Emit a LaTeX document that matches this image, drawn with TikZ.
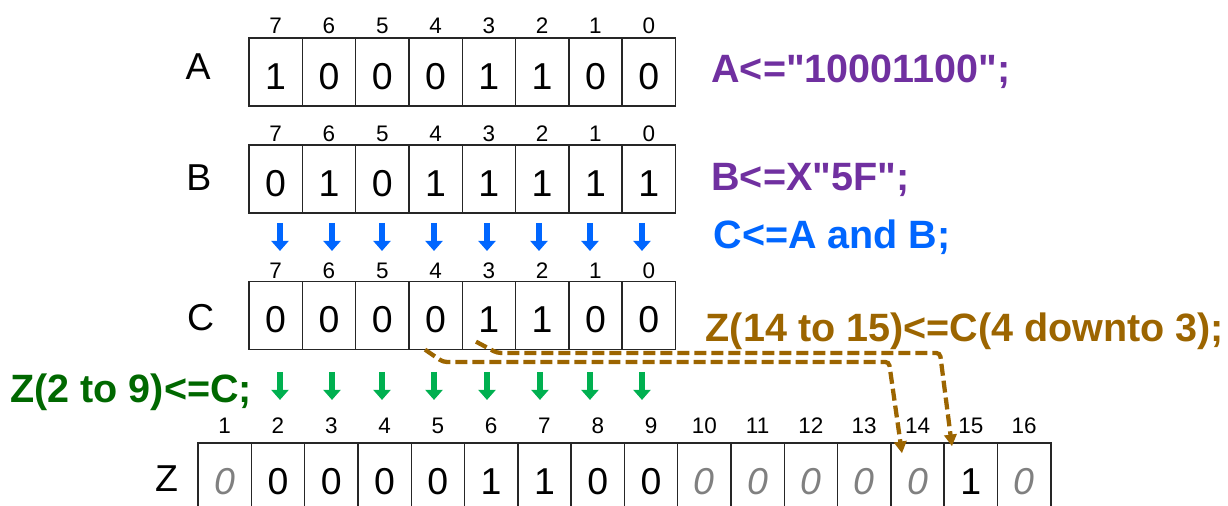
\documentclass[tikz,border=0pt]{standalone}
\usepackage{fontspec}
\setmainfont{Liberation Sans}[Ligatures=TeXOff]
\usetikzlibrary{arrows.meta}
\definecolor{assignpurple}{RGB}{112,48,160}
\definecolor{andblue}{RGB}{0,102,255}
\definecolor{slicebrown}{RGB}{156,101,0}
\definecolor{concatgreen}{RGB}{0,104,0}
\definecolor{arrowgreen}{RGB}{0,176,80}

\begin{document}
\begin{tikzpicture} [scale = 1,
  cell/.style = {draw = black!85, line width = 0.75pt, minimum width = 1cm, minimum height = 1.276cm, inner sep = 0pt, text height = 18.5pt, text depth = 0pt, font = \fontsize{20}{24}\selectfont},
  unset/.style = {cell, text = black!50, font = \fontsize{20}{24}\selectfont\itshape},
  idx/.style = {inner sep = 0pt, text height = 8.6pt, text depth = 0pt, font = \fontsize{12}{14}\selectfont},
  rowname/.style = {inner sep = 0pt, text height = 14.3pt, text depth = 0pt, font = \fontsize{20}{24}\selectfont},
  code/.style = {anchor = base west, inner sep = 0pt, font = \fontsize{21.1}{25}\selectfont\bfseries},
  andarrow/.style = {andblue, line width = 0.13cm, -{Triangle[width = 0.32cm, length = 0.19cm]}},
  copyarrow/.style = {arrowgreen, line width = 0.13cm, -{Triangle[width = 0.32cm, length = 0.19cm]}},
  slicearrow/.style = {slicebrown, line width = 0.08cm, dash pattern = on 0.225cm off 0.094cm, rounded corners = 2pt, -{Triangle[width = 0.23cm, length = 0.22cm]}}]
\useasboundingbox (0, 0) rectangle (23.04, 9.493);
% row A
\node[rowname] (nameA) at (3.715, 8.25){A};
\node[cell] (A7) at (5.172, 8.143){1};
\node[cell] (A6) at (6.172, 8.143){0};
\node[cell] (A5) at (7.172, 8.143){0};
\node[cell] (A4) at (8.172, 8.143){0};
\node[cell] (A3) at (9.172, 8.143){1};
\node[cell] (A2) at (10.172, 8.143){1};
\node[cell] (A1) at (11.172, 8.143){0};
\node[cell] (A0) at (12.172, 8.143){0};
\node[idx] (iA7) at (5.172, 9.02){7};
\node[idx] (iA6) at (6.172, 9.02){6};
\node[idx] (iA5) at (7.172, 9.02){5};
\node[idx] (iA4) at (8.172, 9.02){4};
\node[idx] (iA3) at (9.172, 9.02){3};
\node[idx] (iA2) at (10.172, 9.02){2};
\node[idx] (iA1) at (11.172, 9.02){1};
\node[idx] (iA0) at (12.172, 9.02){0};
\node[code, assignpurple] (codeA) at (13.34, 7.936){A<="10001100";};
% row B
\node[rowname] (nameB) at (3.733, 6.173){B};
\node[cell] (B7) at (5.172, 6.135){0};
\node[cell] (B6) at (6.172, 6.135){1};
\node[cell] (B5) at (7.172, 6.135){0};
\node[cell] (B4) at (8.172, 6.135){1};
\node[cell] (B3) at (9.172, 6.135){1};
\node[cell] (B2) at (10.172, 6.135){1};
\node[cell] (B1) at (11.172, 6.135){1};
\node[cell] (B0) at (12.172, 6.135){1};
\node[idx] (iB7) at (5.172, 6.998){7};
\node[idx] (iB6) at (6.172, 6.998){6};
\node[idx] (iB5) at (7.172, 6.998){5};
\node[idx] (iB4) at (8.172, 6.998){4};
\node[idx] (iB3) at (9.172, 6.998){3};
\node[idx] (iB2) at (10.172, 6.998){2};
\node[idx] (iB1) at (11.172, 6.998){1};
\node[idx] (iB0) at (12.172, 6.998){0};
\node[code, assignpurple] (codeB) at (13.34, 5.910){B<=X"5F";};
% A and B
\node[code, andblue] (codeC) at (13.38, 4.822){C<=A and B;};
\draw[andarrow] (5.253, 5.310) -- (5.253, 4.784);
\draw[andarrow] (6.229, 5.310) -- (6.229, 4.784);
\draw[andarrow] (7.167, 5.310) -- (7.167, 4.784);
\draw[andarrow] (8.143, 5.310) -- (8.143, 4.784);
\draw[andarrow] (9.137, 5.310) -- (9.137, 4.784);
\draw[andarrow] (10.113, 5.310) -- (10.113, 4.784);
\draw[andarrow] (11.069, 5.310) -- (11.069, 4.784);
\draw[andarrow] (12.045, 5.310) -- (12.045, 4.784);
% row C
\node[rowname] (nameC) at (3.765, 3.537){C};
\node[cell] (C7) at (5.172, 3.574){0};
\node[cell] (C6) at (6.172, 3.574){0};
\node[cell] (C5) at (7.172, 3.574){0};
\node[cell] (C4) at (8.172, 3.574){0};
\node[cell] (C3) at (9.172, 3.574){1};
\node[cell] (C2) at (10.172, 3.574){1};
\node[cell] (C1) at (11.172, 3.574){0};
\node[cell] (C0) at (12.172, 3.574){0};
\node[idx] (iC7) at (5.172, 4.428){7};
\node[idx] (iC6) at (6.172, 4.428){6};
\node[idx] (iC5) at (7.172, 4.428){5};
\node[idx] (iC4) at (8.172, 4.428){4};
\node[idx] (iC3) at (9.172, 4.428){3};
\node[idx] (iC2) at (10.172, 4.428){2};
\node[idx] (iC1) at (11.172, 4.428){1};
\node[idx] (iC0) at (12.172, 4.428){0};
% Z(2 to 9)
\node[code, concatgreen] (codeZlow) at (0.188, 1.932){Z(2 to 9)<=C;};
\draw[copyarrow] (5.253, 2.514) -- (5.253, 1.989);
\draw[copyarrow] (6.229, 2.514) -- (6.229, 1.989);
\draw[copyarrow] (7.167, 2.514) -- (7.167, 1.989);
\draw[copyarrow] (8.143, 2.514) -- (8.143, 1.989);
\draw[copyarrow] (9.137, 2.514) -- (9.137, 1.989);
\draw[copyarrow] (10.131, 2.514) -- (10.131, 1.989);
\draw[copyarrow] (11.069, 2.514) -- (11.069, 1.989);
\draw[copyarrow] (12.045, 2.514) -- (12.045, 1.989);
% row Z
\node[rowname] (nameZ) at (3.127, 0.531){Z};
\node[unset] (Z1) at (4.215, 0.544){0};
\node[cell] (Z2) at (5.215, 0.544){0};
\node[cell] (Z3) at (6.215, 0.544){0};
\node[cell] (Z4) at (7.215, 0.544){0};
\node[cell] (Z5) at (8.215, 0.544){0};
\node[cell] (Z6) at (9.215, 0.544){1};
\node[cell] (Z7) at (10.215, 0.544){1};
\node[cell] (Z8) at (11.215, 0.544){0};
\node[cell] (Z9) at (12.215, 0.544){0};
\node[unset] (Z10) at (13.215, 0.544){0};
\node[unset] (Z11) at (14.215, 0.544){0};
\node[unset] (Z12) at (15.215, 0.544){0};
\node[unset] (Z13) at (16.215, 0.544){0};
\node[unset] (Z14) at (17.215, 0.544){0};
\node[cell] (Z15) at (18.215, 0.544){1};
\node[unset] (Z16) at (19.215, 0.544){0};
\node[idx] (iZ1) at (4.215, 1.52){1};
\node[idx] (iZ2) at (5.215, 1.52){2};
\node[idx] (iZ3) at (6.215, 1.52){3};
\node[idx] (iZ4) at (7.215, 1.52){4};
\node[idx] (iZ5) at (8.215, 1.52){5};
\node[idx] (iZ6) at (9.215, 1.52){6};
\node[idx] (iZ7) at (10.215, 1.52){7};
\node[idx] (iZ8) at (11.215, 1.52){8};
\node[idx] (iZ9) at (12.215, 1.52){9};
\node[idx] (iZ10) at (13.215, 1.52){10};
\node[idx] (iZ11) at (14.215, 1.52){11};
\node[idx] (iZ12) at (15.215, 1.52){12};
\node[idx] (iZ13) at (16.215, 1.52){13};
\node[idx] (iZ14) at (17.215, 1.52){14};
\node[idx] (iZ15) at (18.215, 1.52){15};
\node[idx] (iZ16) at (19.215, 1.52){16};
% Z(14 to 15)
\node[code, slicebrown] (codeZhigh) at (13.236, 3.077){Z(14 to 15)<=C(4 downto 3);};
\draw[slicearrow] ([shift = {(-0.198, 0.01)}]C4.south) -- (8.311, 2.702) -- (16.679, 2.702) -- ([shift = {(-0.292, -0.206)}]Z14.north);
\draw[slicearrow] ([shift = {(-0.241, 0.16)}]C3.south) -- (9.325, 2.871) -- (17.636, 2.871) -- ([shift = {(-0.354, -0.075)}]Z15.north);
\end{tikzpicture}
\end{document}
